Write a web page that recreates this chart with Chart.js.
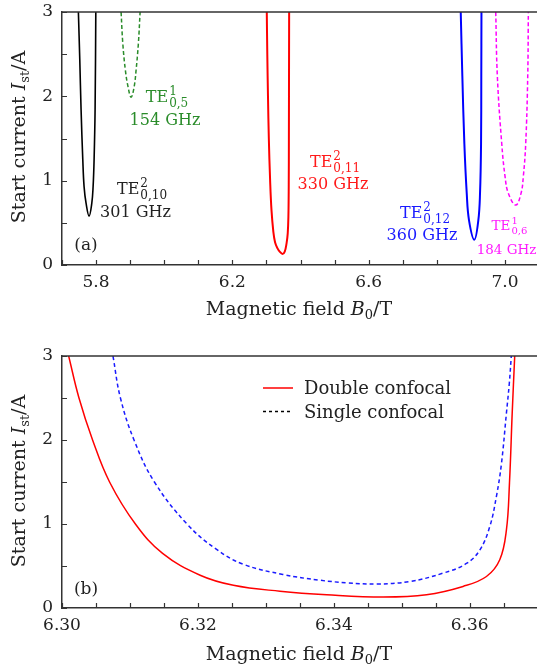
<!DOCTYPE html>
<html><head><meta charset="utf-8">
<script src="https://cdn.jsdelivr.net/npm/chart.js@4.4.0/dist/chart.umd.min.js"></script>
<style>
html,body{margin:0;padding:0;background:#fff;overflow:hidden;width:537px;height:669px;}
.wrap{position:absolute;left:0;width:537px;}
canvas{display:block;}
</style></head><body>
<div class="wrap" style="top:-8px;height:338px"><canvas id="c1" width="537" height="338"></canvas></div>
<div class="wrap" style="top:330px;height:339px"><canvas id="c2" width="537" height="339"></canvas></div>
<script>
// ---------- data (panel a) ----------
const te010B = [5.7481, 5.7522, 5.7560, 5.7610, 5.7648, 5.7707, 5.7795, 5.7874, 5.7913, 5.7942, 5.7971, 5.7992];
const te010I = [3.0, 2.43, 1.84, 1.25, 0.93, 0.73, 0.58, 0.73, 0.93, 1.25, 1.84, 3.0];
const te05B = [5.8734, 5.8784, 5.8860, 5.8940, 5.9028, 5.9116, 5.9174, 5.9242, 5.9292];
const te05I = [3.0, 2.63, 2.31, 2.11, 1.99, 2.11, 2.31, 2.63, 3.0];
const te012B = [6.8702, 6.8749, 6.8808, 6.8878, 6.8945, 6.9101, 6.9218, 6.9268, 6.9298, 6.9305, 6.9310];
const te012I = [3.0, 2.24, 1.44, 0.85, 0.53, 0.30, 0.53, 0.85, 1.44, 2.24, 3.0];
const te06B = [6.9729, 6.9776, 6.9905, 7.0002, 7.0099, 7.0316, 7.0471, 7.0539, 7.0609, 7.0668, 7.0686];
const te06I = [3.0, 2.24, 1.44, 1.05, 0.85, 0.71, 0.85, 1.05, 1.44, 2.24, 3.0];
// ---------- data (TE0,11 330 GHz; panel a red and panel b) ----------
const dcB = [6.30098, 6.30250, 6.30450, 6.30700, 6.31080, 6.31480, 6.32033, 6.32522, 6.33208, 6.33895, 6.34727, 6.35364, 6.35902, 6.36246, 6.36442, 6.3654, 6.36585, 6.36625, 6.36662];
const dcI = [3.0, 2.5, 2.0, 1.5, 1.0, 0.65, 0.39, 0.27, 0.20, 0.158, 0.131, 0.158, 0.257, 0.375, 0.574, 0.93, 1.49, 2.32, 3.0];
const scB = [6.3075, 6.30860, 6.31060, 6.31360, 6.31840, 6.3227, 6.3267, 6.3325, 6.3380, 6.3420, 6.3463, 6.35119, 6.35608, 6.35952, 6.36148, 6.36295, 6.36393, 6.36467, 6.3654, 6.36582, 6.36612];
const scI = [3.0, 2.5, 2.0, 1.5, 1.0, 0.70, 0.52, 0.40, 0.33, 0.30, 0.285, 0.316, 0.415, 0.53, 0.69, 0.97, 1.33, 1.72, 2.32, 2.67, 3.0];
// ---------- tick labels ----------
const xLabelsA = [5.8, 6.2, 6.6, 7.0];
const xLabelsB = [6.30, 6.32, 6.34, 6.36];
const yLabels = [0, 1, 2, 3];
const seriesNames = ['Double confocal', 'Single confocal'];

const FONT = '"DejaVu Serif", serif';
const pts = (xs, ys) => xs.map((x, i) => ({x, y: ys[i]}));

function fontStr(size, italic){ return (italic ? 'italic ' : '') + size + 'px ' + FONT; }
// parts: [text, size, italic, dy]
function rich(ctx, parts, x, y, align){
  let w = 0;
  parts.forEach(p => { ctx.font = fontStr(p[1], p[2]); p.w = ctx.measureText(p[0]).width; w += p.w; });
  let cx = align === 'center' ? x - w / 2 : x;
  ctx.textAlign = 'left'; ctx.textBaseline = 'alphabetic';
  parts.forEach(p => { ctx.font = fontStr(p[1], p[2]); ctx.fillText(p[0], cx, y + (p[3] || 0)); cx += p.w; });
}
function drawTE(ctx, cx, y, sup, sub, color, size){
  const s2 = Math.round(size * 0.72);
  ctx.font = fontStr(size); const wTE = ctx.measureText('TE').width;
  ctx.font = fontStr(s2); const wSup = ctx.measureText(sup).width, wSub = ctx.measureText(sub).width;
  const w = wTE + Math.max(wSup, wSub) + 1;
  const x0 = cx - w / 2;
  ctx.fillStyle = color; ctx.textAlign = 'left'; ctx.textBaseline = 'alphabetic';
  ctx.font = fontStr(size); ctx.fillText('TE', x0, y);
  ctx.font = fontStr(s2); ctx.fillText(sup, x0 + wTE + 1, y - size * 0.42); ctx.fillText(sub, x0 + wTE + 1, y + size * 0.3);
}

const frame = {
  id: 'frame',
  afterDraw(chart){
    const {ctx, chartArea: a, scales: {x, y}} = chart;
    ctx.save();
    ctx.strokeStyle = '#333'; ctx.lineWidth = 1.2;
    ctx.beginPath();
    x.ticks.forEach(t => { const px = Math.round(x.getPixelForValue(t.value)) + 0.5; ctx.moveTo(px, a.bottom); ctx.lineTo(px, a.bottom - 5); });
    y.ticks.forEach(t => { const py = Math.round(y.getPixelForValue(t.value)) + 0.5; ctx.moveTo(a.left, py); ctx.lineTo(a.left + 5, py); });
    ctx.stroke();
    ctx.lineWidth = 1.5; ctx.beginPath(); ctx.moveTo(a.left, a.top); ctx.lineTo(a.right, a.top); ctx.stroke();
    ctx.restore();
  }
};

function axisTitles(ctx, yCenter, xBase){
  ctx.save();
  ctx.fillStyle = '#222';
  rich(ctx, [['Magnetic field ', 19, false], ['B', 19, true], ['0', 13, false, 4], ['/T', 19, false]], 299, xBase, 'center');
  ctx.translate(25, yCenter); ctx.rotate(-Math.PI / 2);
  rich(ctx, [['Start current ', 19, false], ['I', 19, true], ['st', 13, false, 4], ['/A', 19, false]], 0, 0, 'center');
  ctx.restore();
}

function baseOptions(xmin, xmax, step, labels, digits, xHeight, padTop){
  return {
    responsive: false, animation: false, devicePixelRatio: 1,
    layout: {padding: {top: padTop, left: 0, right: 0, bottom: 0}},
    plugins: {legend: {display: false}, tooltip: {enabled: false}},
    elements: {point: {radius: 0}, line: {tension: 0.4, borderCapStyle: 'butt', borderJoinStyle: 'round'}},
    scales: {
      x: {
        type: 'linear', min: xmin, max: xmax,
        grid: {display: false, drawTicks: false},
        border: {display: true, color: '#333', width: 1.5},
        afterFit: s => { s.height = xHeight; },
        ticks: {
          stepSize: step, includeBounds: false, autoSkip: false, maxRotation: 0, padding: 7,
          color: '#222', font: {family: FONT, size: 17},
          callback: v => { const m = labels.find(t => Math.abs(t - v) < 1e-7); return m === undefined ? '' : m.toFixed(digits); }
        }
      },
      y: {
        type: 'linear', min: 0, max: 3,
        grid: {display: false, drawTicks: false},
        border: {display: true, color: '#333', width: 1.5},
        afterFit: s => { s.width = 62; },
        ticks: {
          stepSize: 0.5, autoSkip: false, padding: 9,
          color: '#222', font: {family: FONT, size: 17},
          callback: v => { const m = yLabels.find(t => Math.abs(t - v) < 1e-7); return m === undefined ? '' : String(m); }
        }
      }
    }
  };
}

// ---------- panel (a) ----------
const annA = {
  id: 'annA',
  afterDraw(chart){
    const ctx = chart.ctx;
    ctx.save();
    ctx.translate(0, 8); // canvas is shifted up by 8px; coordinates below are page coordinates
    drawTE(ctx, 167, 102, '1', '0,5', '#2a8c2a', 16);
    ctx.fillStyle = '#2a8c2a'; rich(ctx, [['154 GHz', 16, false]], 165, 125, 'center');
    drawTE(ctx, 142, 194, '2', '0,10', '#222', 16);
    ctx.fillStyle = '#222'; rich(ctx, [['301 GHz', 16, false]], 135.5, 217, 'center');
    drawTE(ctx, 335, 167, '2', '0,11', '#ff1a1a', 16);
    ctx.fillStyle = '#ff1a1a'; rich(ctx, [['330 GHz', 16, false]], 333, 189, 'center');
    drawTE(ctx, 425, 218, '2', '0,12', '#1a1aff', 16);
    ctx.fillStyle = '#1a1aff'; rich(ctx, [['360 GHz', 16, false]], 422, 240, 'center');
    drawTE(ctx, 509.5, 230, '1', '0,6', '#ff1aff', 13.5);
    ctx.fillStyle = '#ff1aff'; rich(ctx, [['184 GHz', 13.5, false]], 506.5, 254, 'center');
    ctx.fillStyle = '#222'; rich(ctx, [['(a)', 17, false]], 86, 250, 'center');
    axisTitles(ctx, 137, 315);
    ctx.restore();
  }
};

new Chart(document.getElementById('c1'), {
  type: 'line',
  data: {datasets: [
    {data: pts(te010B, te010I), borderColor: '#000', borderWidth: 1.6},
    {data: pts(te05B, te05I), borderColor: '#2a8c2a', borderWidth: 1.5, borderDash: [4, 2.5]},
    {data: pts(dcB, dcI), borderColor: '#ff0000', borderWidth: 2},
    {data: pts(te012B, te012I), borderColor: '#0000ff', borderWidth: 2},
    {data: pts(te06B, te06I), borderColor: '#ff00ff', borderWidth: 1.5, borderDash: [4, 2.5]}
  ]},
  options: baseOptions(5.7, 7.094, 0.1, xLabelsA, 1, 65, 20),
  plugins: [frame, annA]
});

// ---------- panel (b) ----------
const annB = {
  id: 'annB',
  afterDraw(chart){
    const ctx = chart.ctx;
    ctx.save();
    ctx.lineWidth = 1.5;
    ctx.strokeStyle = '#ff0000'; ctx.beginPath(); ctx.moveTo(263, 58); ctx.lineTo(293, 58); ctx.stroke();
    ctx.strokeStyle = '#000'; ctx.setLineDash([3, 3]); ctx.beginPath(); ctx.moveTo(263, 81.5); ctx.lineTo(293, 81.5); ctx.stroke();
    ctx.setLineDash([]);
    ctx.fillStyle = '#222';
    rich(ctx, [[seriesNames[0], 18, false]], 304, 64, 'left');
    rich(ctx, [[seriesNames[1], 18, false]], 304, 87.5, 'left');
    rich(ctx, [['(b)', 17, false]], 86, 264, 'center');
    axisTitles(ctx, 151, 330);
    ctx.restore();
  }
};

new Chart(document.getElementById('c2'), {
  type: 'line',
  data: {datasets: [
    {label: seriesNames[0], data: pts(dcB, dcI), borderColor: '#ff0000', borderWidth: 1.5},
    {label: seriesNames[1], data: pts(scB, scI), borderColor: '#1a1aff', borderWidth: 1.5, borderDash: [4, 3]}
  ]},
  options: baseOptions(6.30, 6.3699, 0.005, xLabelsB, 2, 61, 26),
  plugins: [frame, annB]
});
</script>
</body></html>
